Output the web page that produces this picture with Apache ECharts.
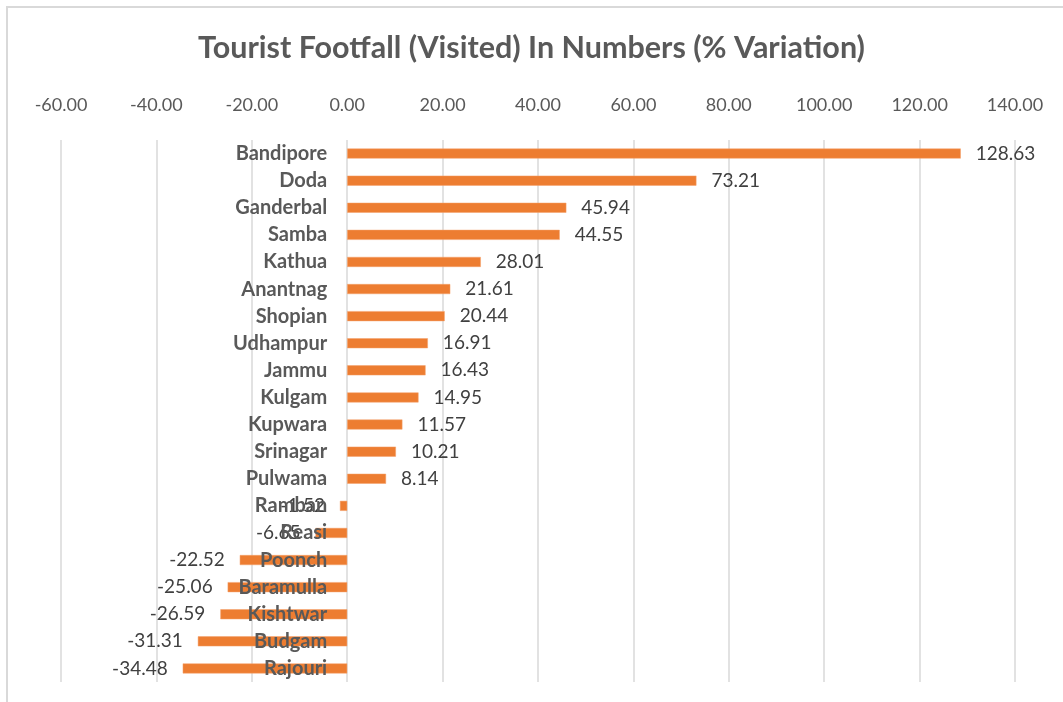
<!DOCTYPE html>
<html>
<head>
<meta charset="utf-8">
<script src="https://cdn.jsdelivr.net/npm/echarts@6/dist/echarts.min.js"></script>
<style>
  html, body { margin: 0; padding: 0; background: #ffffff; }
  #chart { width: 1063px; height: 702px; }
</style>
</head>
<body>
<div id="chart"></div>
<script>
// districts, top to bottom
var districts = ['Bandipore', 'Doda', 'Ganderbal', 'Samba', 'Kathua', 'Anantnag', 'Shopian',
  'Udhampur', 'Jammu', 'Kulgam', 'Kupwara', 'Srinagar', 'Pulwama', 'Ramban', 'Reasi',
  'Poonch', 'Baramulla', 'Kishtwar', 'Budgam', 'Rajouri'];
// % variation
var variation = [128.63, 73.21, 45.94, 44.55, 28.01, 21.61, 20.44,
  16.91, 16.43, 14.95, 11.57, 10.21, 8.14, -1.52, -6.65,
  -22.52, -25.06, -26.59, -31.31, -34.48];

var chart = echarts.init(document.getElementById('chart'));
var font = 'Lato, "Open Sans", sans-serif';
var gridLeft = 61, gridRight = 48;
var xMin = -60, xMax = 140;
// pixel distance from grid left edge to the zero line
var zeroOffset = (0 - xMin) / (xMax - xMin) * (1063 - gridLeft - gridRight);

var option = {
    backgroundColor: '#ffffff',
    animation: false,
    title: {
        text: 'Tourist Footfall (Visited) In Numbers (% Variation)',
        left: 'center',
        top: 28,
        textStyle: { fontFamily: font, fontSize: 30.5, fontWeight: 'bold', color: '#595959' }
    },
    // chart area frame (top and left edge visible)
    graphic: [{
        type: 'rect',
        shape: { x: 7, y: 7, width: 1100, height: 760 },
        style: { fill: 'none', stroke: '#d9d9d9', lineWidth: 2 },
        silent: true
    }],
    grid: { left: gridLeft, right: gridRight, top: 140, bottom: 20, outerBoundsMode: 'none' },
    xAxis: {
        type: 'value',
        position: 'top',
        min: xMin,
        max: xMax,
        interval: 20,
        axisLine: { show: false },
        axisTick: { show: false },
        axisLabel: {
            margin: 26,
            fontFamily: font,
            fontSize: 18,
            color: '#595959',
            formatter: function (v) { return v.toFixed(2); }
        },
        splitLine: { lineStyle: { color: '#d9d9d9', width: 1.5 } }
    },
    yAxis: {
        type: 'category',
        data: districts,
        inverse: true,
        offset: -zeroOffset,
        z: 5, // names sit on top of the bars, like the original
        axisLine: { show: false, onZero: false },
        axisTick: { show: false },
        axisLabel: {
            margin: 20,
            fontFamily: font,
            fontSize: 20,
            fontWeight: 'bold',
            color: '#595959'
        }
    },
    series: [{
        type: 'bar',
        data: variation.map(function (v) {
            return {
                value: v,
                label: { position: v < 0 ? 'left' : 'right' }
            };
        }),
        barWidth: 10,
        itemStyle: { color: '#ED7D31', borderColor: '#F4A06A', borderWidth: 0.5 },
        label: {
            show: true,
            distance: 15,
            fontFamily: font,
            fontSize: 19,
            color: '#404040',
            formatter: function (p) { return p.value.toFixed(2); }
        }
    }]
};
chart.setOption(option);
</script>
</body>
</html>
